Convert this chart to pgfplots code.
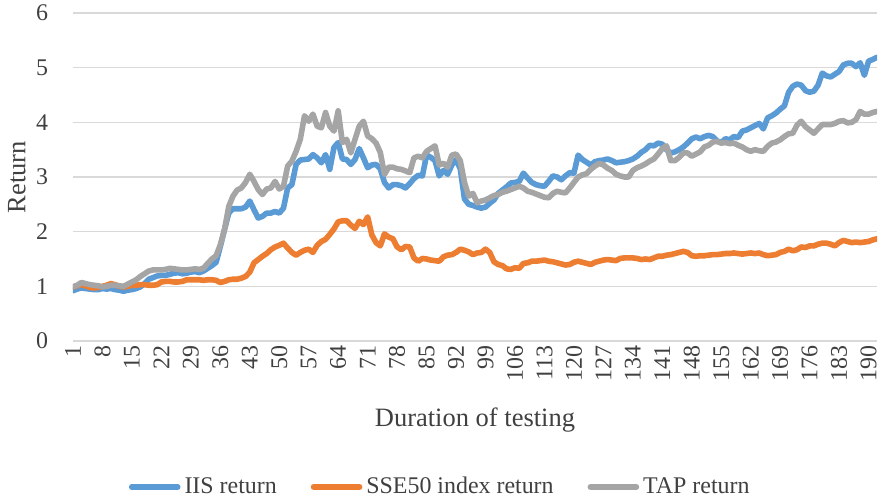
\documentclass[border=0pt]{standalone}
\usepackage{fontspec}
\setmainfont{Liberation Serif}
\usepackage{pgfplots}
\usepackage{pgfplotstable}
\pgfplotsset{compat=1.18}
\definecolor{iis}{HTML}{5B9BD5}
\definecolor{sse}{HTML}{ED7D31}
\definecolor{tap}{HTML}{A5A5A5}
\definecolor{gridc}{HTML}{D9D9D9}
\pgfplotstableread{
i iis sse tap
1 0.92 0.99 0.99
2 0.95 1.01 1.02
3 0.97 1.03 1.07
4 0.96 1.01 1.05
5 0.95 0.98 1.03
6 0.94 0.97 1.02
7 0.94 0.98 1.01
8 0.96 1.00 0.99
9 0.95 1.02 1.00
10 0.96 1.05 1.02
11 0.94 1.03 1.02
12 0.93 1.00 1.01
13 0.91 0.99 1.00
14 0.93 1.00 1.04
15 0.94 1.02 1.08
16 0.96 1.02 1.12
17 0.99 1.03 1.18
18 1.05 1.03 1.23
19 1.13 1.02 1.28
20 1.16 1.02 1.30
21 1.19 1.03 1.30
22 1.20 1.08 1.30
23 1.20 1.09 1.31
24 1.22 1.09 1.33
25 1.24 1.08 1.32
26 1.25 1.08 1.31
27 1.23 1.09 1.30
28 1.24 1.12 1.30
29 1.26 1.12 1.31
30 1.27 1.12 1.32
31 1.25 1.12 1.31
32 1.28 1.11 1.33
33 1.33 1.12 1.42
34 1.38 1.12 1.50
35 1.44 1.11 1.56
36 1.73 1.07 1.76
37 2.04 1.09 2.04
38 2.34 1.12 2.46
39 2.42 1.13 2.65
40 2.42 1.13 2.76
41 2.42 1.15 2.80
42 2.45 1.18 2.90
43 2.56 1.26 3.05
44 2.40 1.43 2.92
45 2.25 1.49 2.77
46 2.28 1.55 2.68
47 2.34 1.60 2.78
48 2.34 1.67 2.80
49 2.37 1.72 2.92
50 2.34 1.75 2.78
51 2.43 1.79 2.83
52 2.80 1.70 3.20
53 2.86 1.62 3.29
54 3.23 1.57 3.47
55 3.31 1.62 3.69
56 3.32 1.66 4.12
57 3.33 1.68 4.02
58 3.41 1.62 4.15
59 3.35 1.75 3.93
60 3.26 1.82 3.90
61 3.41 1.86 4.18
62 3.14 1.95 3.93
63 3.54 2.05 3.84
64 3.63 2.18 4.21
65 3.33 2.20 3.63
66 3.32 2.20 3.69
67 3.23 2.12 3.44
68 3.32 2.06 3.69
69 3.52 2.19 3.93
70 3.35 2.13 4.02
71 3.17 2.27 3.75
72 3.22 1.94 3.70
73 3.23 1.80 3.62
74 3.15 1.74 3.45
75 2.90 1.96 3.05
76 2.80 1.90 3.18
77 2.86 1.87 3.18
78 2.86 1.72 3.15
79 2.84 1.67 3.14
80 2.80 1.73 3.11
81 2.88 1.72 3.08
82 2.97 1.52 3.35
83 3.03 1.46 3.38
84 3.02 1.51 3.35
85 3.40 1.50 3.47
86 3.36 1.48 3.52
87 3.30 1.47 3.57
88 3.02 1.46 3.22
89 3.12 1.54 3.25
90 3.05 1.57 3.18
91 3.22 1.58 3.40
92 3.32 1.62 3.42
93 3.15 1.68 3.30
94 2.60 1.66 2.90
95 2.50 1.63 2.65
96 2.48 1.58 2.70
97 2.45 1.61 2.53
98 2.43 1.62 2.56
99 2.45 1.68 2.58
100 2.52 1.62 2.62
101 2.58 1.45 2.66
102 2.70 1.40 2.68
103 2.76 1.38 2.72
104 2.82 1.32 2.74
105 2.89 1.31 2.77
106 2.90 1.34 2.80
107 2.92 1.33 2.83
108 3.07 1.42 2.80
109 2.98 1.43 2.74
110 2.90 1.46 2.72
111 2.86 1.46 2.69
112 2.84 1.47 2.66
113 2.83 1.48 2.63
114 2.92 1.46 2.62
115 3.02 1.45 2.70
116 3.00 1.43 2.74
117 2.95 1.41 2.72
118 3.02 1.39 2.71
119 3.08 1.40 2.80
120 3.07 1.44 2.90
121 3.40 1.46 3.00
122 3.32 1.44 3.04
123 3.27 1.42 3.06
124 3.22 1.40 3.14
125 3.28 1.44 3.20
126 3.30 1.46 3.25
127 3.31 1.48 3.22
128 3.33 1.49 3.16
129 3.30 1.48 3.12
130 3.26 1.47 3.05
131 3.27 1.51 3.02
132 3.28 1.52 3.00
133 3.30 1.52 3.00
134 3.33 1.52 3.12
135 3.38 1.51 3.17
136 3.45 1.49 3.20
137 3.50 1.50 3.24
138 3.58 1.49 3.29
139 3.57 1.52 3.33
140 3.62 1.55 3.42
141 3.60 1.55 3.52
142 3.50 1.57 3.57
143 3.44 1.58 3.30
144 3.46 1.60 3.30
145 3.50 1.62 3.36
146 3.55 1.64 3.44
147 3.62 1.62 3.44
148 3.70 1.56 3.38
149 3.73 1.55 3.42
150 3.70 1.56 3.46
151 3.74 1.56 3.55
152 3.76 1.57 3.58
153 3.74 1.58 3.64
154 3.66 1.58 3.65
155 3.63 1.59 3.62
156 3.70 1.60 3.63
157 3.68 1.60 3.61
158 3.74 1.61 3.62
159 3.72 1.60 3.58
160 3.84 1.59 3.55
161 3.86 1.60 3.50
162 3.90 1.61 3.47
163 3.94 1.60 3.50
164 3.98 1.61 3.48
165 3.88 1.58 3.47
166 4.08 1.56 3.56
167 4.12 1.57 3.62
168 4.17 1.58 3.64
169 4.24 1.62 3.68
170 4.30 1.64 3.74
171 4.55 1.68 3.79
172 4.66 1.65 3.80
173 4.70 1.67 3.95
174 4.68 1.72 4.02
175 4.58 1.71 3.92
176 4.55 1.74 3.86
177 4.57 1.74 3.80
178 4.68 1.77 3.88
179 4.90 1.79 3.96
180 4.85 1.79 3.96
181 4.83 1.77 3.96
182 4.88 1.74 3.98
183 4.93 1.80 4.02
184 5.05 1.84 4.03
185 5.08 1.82 3.99
186 5.08 1.80 4.00
187 5.02 1.81 4.05
188 5.09 1.80 4.20
189 4.86 1.81 4.15
190 5.12 1.82 4.15
191 5.15 1.85 4.18
192 5.19 1.87 4.20
}\datatable
\begin{document}
\begin{tikzpicture}
\useasboundingbox (-36.5bp,-79bp) rectangle (404bp,170.5bp);
\begin{axis}[
  at={(0,0)}, anchor=south west,
  scale only axis,
  width=402bp, height=164bp,
  xmin=1, xmax=192, ymin=0, ymax=6,
  xtick={1,8,...,190},
  ytick={0,1,...,6},
  axis x line*=bottom, axis y line*=left,
  x axis line style={draw=gridc, line width=0.75bp, -},
  y axis line style={draw=none},
  ymajorgrids,
  major grid style={draw=gridc, line width=0.75bp},
  major tick length=0pt,
  /pgf/number format/assume math mode=true,
  ticklabel style={font=\fontsize{12}{13}\selectfont, text=black!75},
  xticklabel style={rotate=90, anchor=east, inner sep=2bp},
  yticklabel style={anchor=east, xshift=-9bp},
  xlabel={Duration of testing},
  ylabel={Return},
  label style={font=\fontsize{13.3}{14}\selectfont, text=black!75},
  xlabel style={at={(axis description cs:0.5,-0.241)}, anchor=center},
  ylabel style={at={(axis description cs:-0.07,0.5)}, anchor=center},
  legend style={at={(0.458,-0.445)}, anchor=center, draw=none, fill=none,
    legend columns=3, font=\fontsize{12}{13}\selectfont, text=black!75,
    /tikz/every even column/.append style={column sep=15bp}},
  legend cell align=left,
  legend image code/.code={\draw[#1] (0bp,0bp) -- (23bp,0bp);},
  every axis plot/.append style={line width=2.8bp, line join=round, line cap=round},
]
\addplot[iis, no markers] table[x=i, y=iis] {\datatable};
\addplot[sse, no markers] table[x=i, y=sse] {\datatable};
\addplot[tap, no markers] table[x=i, y=tap] {\datatable};
\legend{IIS return, SSE50 index return, TAP return}
\end{axis}
\end{tikzpicture}
\end{document}
